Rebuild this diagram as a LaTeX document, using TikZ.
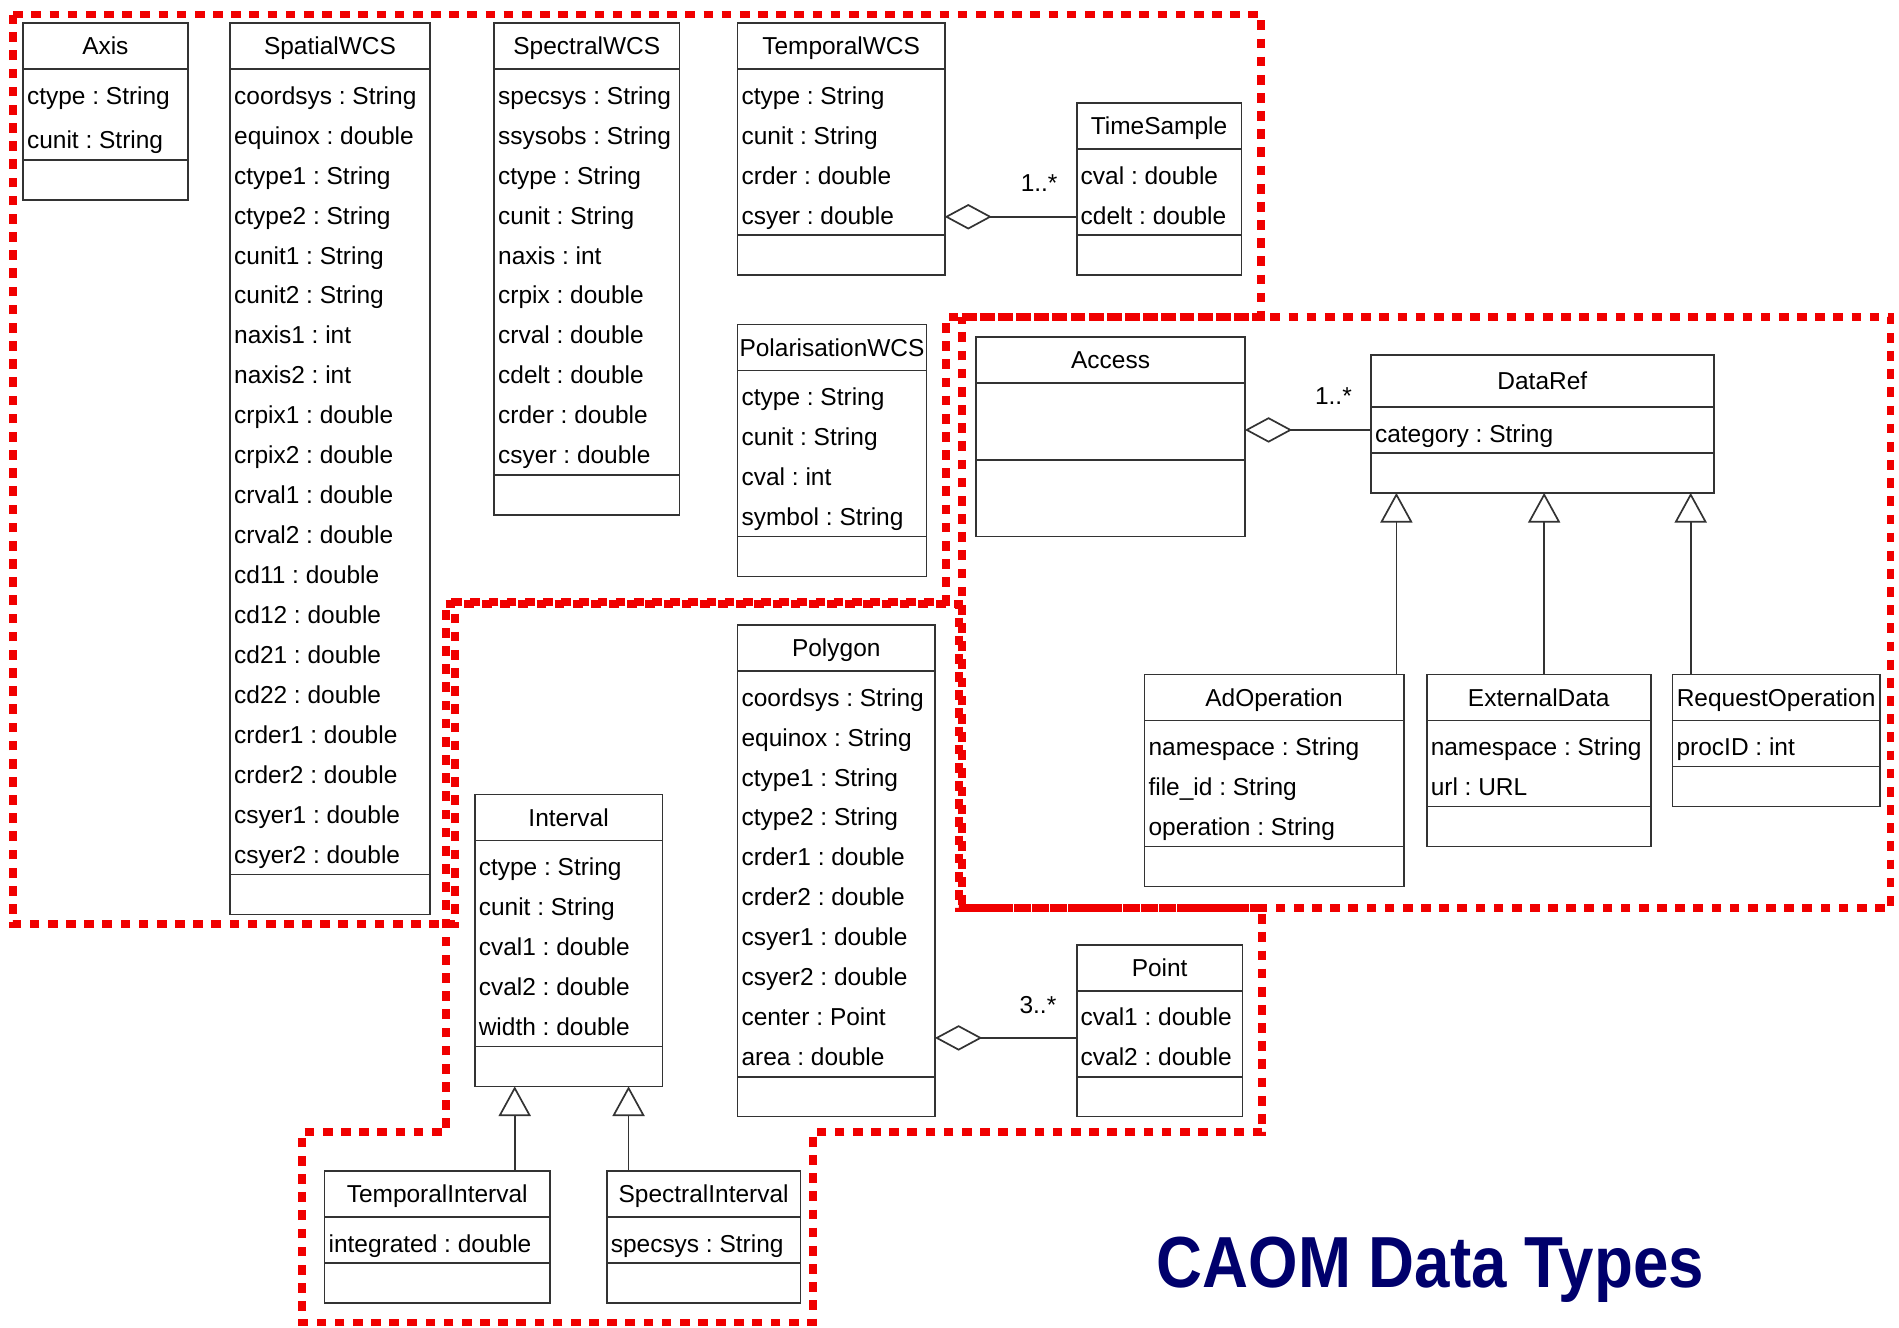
\documentclass[tikz,border=0pt]{standalone}
\usepackage{fontspec}
\setmainfont{Liberation Sans}
\usetikzlibrary{arrows.meta}
\definecolor{captionblue}{RGB}{0,0,108}
\definecolor{zonered}{RGB}{240,0,0}
\frenchspacing

% class box: [header opts]{name}{x}{y}{width}{title}{rows}{attributes}
\newcommand{\rowstep}{33}
\newcommand{\umlclass}[8][]{%
  \node[umlhead,#1,minimum width={#5*0.02cm}] (#2) at (#3,#4) {#6};
  \node[umlpart,minimum width={#5*0.02cm},minimum height={(\rowstep*(#7-1)+38)*0.02cm}] (#2-attr) at (#2.south west) {};
  \foreach \txt [count=\idx] in {#8}
    \node[umlrow] (#2-r\idx) at ([xshift=0.06cm,yshift={-(29+\rowstep*(\idx-1))*0.02cm}]#2-attr.north west) {\txt};
  \node[umlpart,minimum width={#5*0.02cm},minimum height=0.66cm] (#2-ops) at (#2-attr.south west) {};
}

\begin{document}
\begin{tikzpicture}[x=0.02cm, y=-0.02cm, every node/.style={font=\fontsize{11.5}{14}\selectfont},
  umlhead/.style={draw=black!80,line width=0.8pt,anchor=north west,inner sep=0pt,outer sep=0pt,minimum height=0.76cm,text height=8.2pt,text depth=0pt},
  umlpart/.style={draw=black!80,line width=0.8pt,anchor=north west,inner sep=0pt,outer sep=0pt},
  umlrow/.style={anchor=base west,inner sep=0pt},
  mult/.style={anchor=base,inner sep=0pt},
  aggr/.style={draw=black!80,line width=0.8pt,-{Diamond[open,length=0.78cm,width=0.42cm]}},
  gen/.style={draw=black!80,line width=0.8pt,-{Triangle[open,length=0.49cm,width=0.53cm]}},
  zone/.style={draw=zonered,line width=0.13cm,dash pattern=on 0.16cm off 0.14cm}]
\useasboundingbox (0,0) rectangle (1568,1096);

% package borders
\draw[zone] (11,12) -- (1041,12) -- (1041,262) -- (781,262) -- (781,497) -- (376,497) -- (376,763) -- (11,763) -- cycle;
\draw[zone] (794,262) -- (1561,262) -- (1561,750) -- (794,750) -- cycle;
\draw[zone] (368,499) -- (792,499) -- (792,750) -- (1042,750) -- (1042,935) -- (671,935) -- (671,1092) -- (249,1092) -- (249,935) -- (368,935) -- cycle;

% WCS classes
{\renewcommand{\rowstep}{37}
\umlclass{ax}{19}{19}{136}{Axis}{2}{ctype : String, cunit : String}}
\umlclass{sp}{190}{19}{165}{SpatialWCS}{20}{coordsys : String, equinox : double, ctype1 : String, ctype2 : String,
  cunit1 : String, cunit2 : String, naxis1 : int, naxis2 : int, crpix1 : double, crpix2 : double,
  crval1 : double, crval2 : double, cd11 : double, cd12 : double, cd21 : double, cd22 : double,
  crder1 : double, crder2 : double, csyer1 : double, csyer2 : double}
\umlclass{se}{408}{19}{153}{SpectralWCS}{10}{specsys : String, ssysobs : String, ctype : String, cunit : String,
  naxis : int, crpix : double, crval : double, cdelt : double, crder : double, csyer : double}
\umlclass{tw}{609}{19}{171}{TemporalWCS}{4}{ctype : String, cunit : String, crder : double, csyer : double}
\umlclass{ts}{889}{85}{136}{TimeSample}{2}{cval : double, cdelt : double}
\umlclass{pw}{609}{268}{156}{PolarisationWCS}{4}{ctype : String, cunit : String, cval : int, symbol : String}

% access classes
\node[umlhead,minimum width=4.44cm] (ac) at (806,278) {Access};
\node[umlpart,minimum width=4.44cm,minimum height=1.28cm] (ac-attr) at (ac.south west) {};
\node[umlpart,minimum width=4.44cm,minimum height=1.26cm] (ac-ops) at (ac-attr.south west) {};
\umlclass[minimum height=0.86cm]{dr}{1132}{293}{283}{DataRef}{1}{category : String}
\umlclass{ao}{945}{557}{214}{AdOperation}{3}{namespace : String, file\_id : String, operation : String}
\umlclass{ed}{1178}{557}{185}{ExternalData}{2}{namespace : String, url : URL}
\umlclass{ro}{1381}{557}{171}{RequestOperation}{1}{procID : int}

% shape classes
\umlclass{pg}{609}{516}{163}{Polygon}{10}{coordsys : String, equinox : String, ctype1 : String, ctype2 : String,
  crder1 : double, crder2 : double, csyer1 : double, csyer2 : double, center : Point, area : double}
\umlclass{pt}{889}{780}{137}{Point}{2}{cval1 : double, cval2 : double}
\umlclass{iv}{392}{656}{155}{Interval}{5}{ctype : String, cunit : String, cval1 : double, cval2 : double, width : double}
\umlclass{ti}{268}{967}{186}{TemporalInterval}{1}{integrated : double}
\umlclass{si}{501}{967}{160}{SpectralInterval}{1}{specsys : String}

% aggregations
\coordinate (tsjoin) at ([yshift=0.12cm]ts-r2.base);
\draw[aggr] (ts-attr.west |- tsjoin) -- (tw-attr.east |- tsjoin);
\node[mult] (m-ts) at (858,158) {1..*};
\coordinate (drjoin) at ([yshift=0.2cm]dr-r1.base);
\draw[aggr] (dr-attr.west |- drjoin) -- (ac-attr.east |- drjoin);
\node[mult] (m-dr) at (1101,334) {1..*};
\coordinate (ptjoin) at ([yshift=-0.2cm]pt-r1.base);
\draw[aggr] (pt-attr.west |- ptjoin) -- (pg-attr.east |- ptjoin);
\node[mult] (m-pt) at (857,837) {3..*};

% generalisations
\coordinate (g-ao) at ([xshift=-0.12cm]ao.north east);
\coordinate (g-ed) at ([xshift=0.09cm]ed.north);
\coordinate (g-ro) at ([xshift=0.3cm]ro.north west);
\foreach \c in {g-ao,g-ed,g-ro} {\draw[gen] (\c) -- (\c |- dr-ops.south);}
\coordinate (g-ti) at ([xshift=-0.58cm]ti.north east);
\coordinate (g-si) at ([xshift=0.36cm]si.north west);
\foreach \c in {g-ti,g-si} {\draw[gen] (\c) -- (\c |- iv-ops.south);}

\node[anchor=base,font=\fontsize{34}{40}\selectfont\bfseries,text=captionblue,xscale=0.88] (title) at (1181,1063) {CAOM Data Types};
\end{tikzpicture}
\end{document}
